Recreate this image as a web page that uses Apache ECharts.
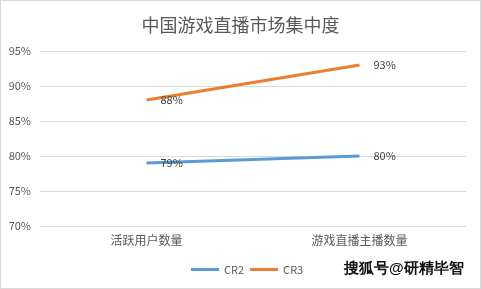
<!DOCTYPE html>
<html><head><meta charset="utf-8">
<script src="https://cdn.jsdelivr.net/npm/echarts@6/dist/echarts.min.js"></script>
<style>html,body{margin:0;padding:0;background:#fff}#c{width:481px;height:289px;box-sizing:border-box;border:1px solid #d9d9d9}</style>
</head><body><div id="c"></div>
<script>
const titleText = '中国游戏直播市场集中度';
const categories = ['活跃用户数量', '游戏直播主播数量'];
const seriesNames = ['CR2', 'CR3'];
const cr2 = [79, 80];
const cr3 = [88, 93];
const watermark = '搜狐号@研精毕智';
const chart = echarts.init(document.getElementById('c'));
const font = '"Microsoft YaHei","Noto Sans CJK SC",sans-serif';
const lbl = {show: true, position: 'right', distance: 14, formatter: p => p.value + '%', color: '#404040', fontSize: 11, fontFamily: font};
chart.setOption({
  animation: false,
  title: {text: titleText, left: 'center', top: 10, textStyle: {fontSize: 18, fontWeight: 'normal', color: '#595959', fontFamily: font}},
  grid: {left: 39, right: 14, top: 50, bottom: 62},
  legend: {data: seriesNames, bottom: 8, left: 185, itemWidth: 28, itemHeight: 3, itemGap: 6, icon: 'rect', textStyle: {fontSize: 11, color: '#595959', fontFamily: font}},
  xAxis: {type: 'category', data: categories, boundaryGap: true, axisLine: {show: false}, axisTick: {show: false},
    axisLabel: {color: '#595959', fontSize: 12, fontFamily: font, margin: 8}},
  yAxis: {type: 'value', min: 70, max: 95, interval: 5, axisLabel: {formatter: '{value}%', color: '#595959', fontSize: 11, fontFamily: font, margin: 9},
    splitLine: {lineStyle: {color: '#d9d9d9'}}},
  graphic: [{type: 'text', left: 343, top: 260, style: {text: watermark, fontSize: 15, fontWeight: 'bold', fill: '#111', font: 'bold 15px "Noto Sans CJK SC"'}}],
  series: [
    {name: 'CR2', type: 'line', data: cr2, symbol: 'circle', symbolSize: 0, lineStyle: {width: 3, color: '#5B9BD5'}, itemStyle: {color: '#5B9BD5'}, label: lbl},
    {name: 'CR3', type: 'line', data: cr3, symbol: 'circle', symbolSize: 0, lineStyle: {width: 3, color: '#ED7D31'}, itemStyle: {color: '#ED7D31'}, label: lbl}
  ]
});
</script></body></html>
